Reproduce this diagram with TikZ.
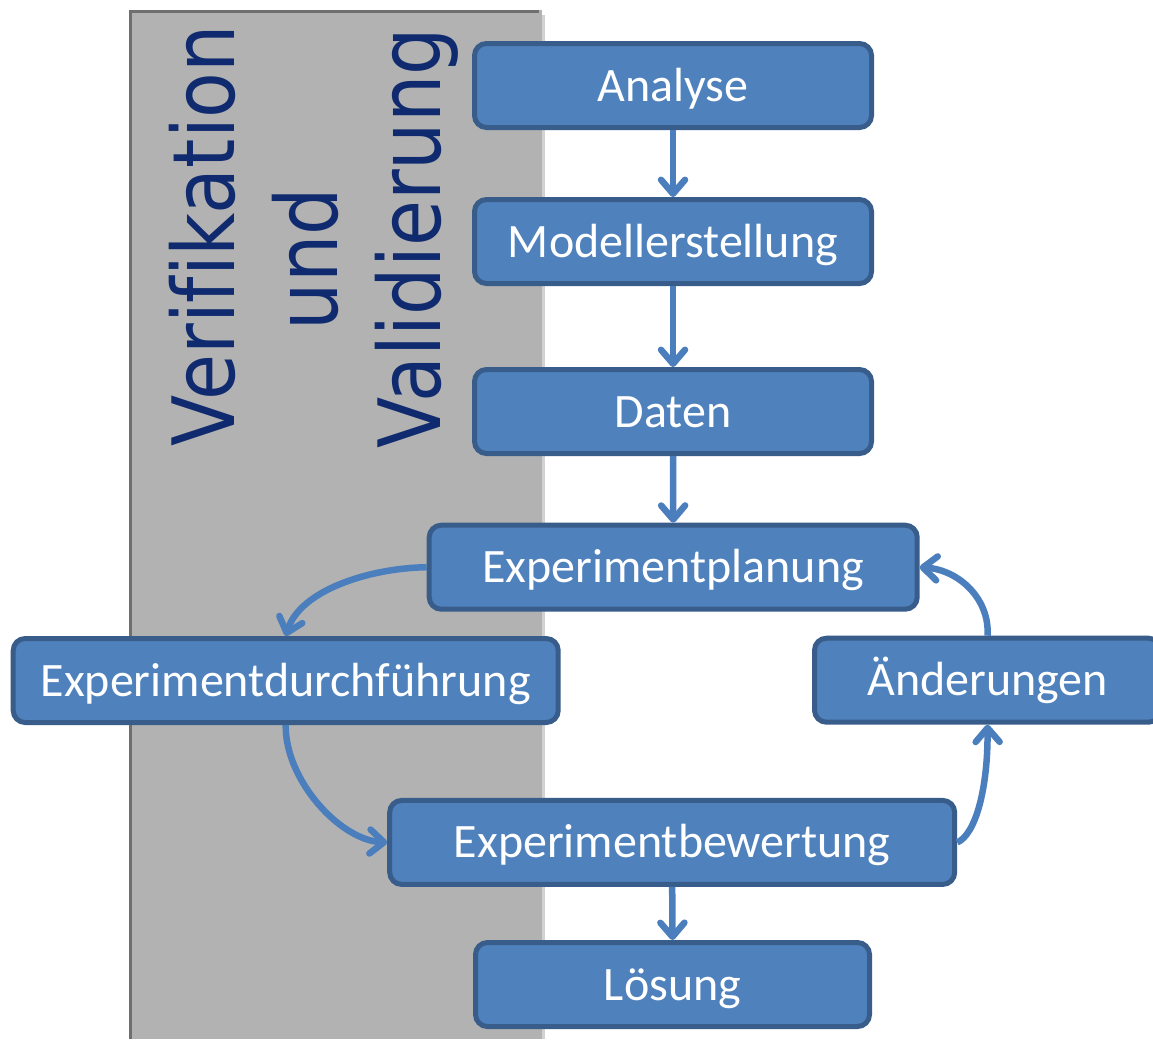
\documentclass[tikz,border=0pt]{standalone}
\usepackage{fontspec}
\usetikzlibrary{arrows.meta}
\newfontfamily\boxfont{Carlito}
\newfontfamily\sidefont[FakeStretch=0.87,Ligatures=NoCommon]{DejaVu Sans}
\definecolor{boxfill}{HTML}{4F81BD}
\definecolor{boxline}{HTML}{385D8A}
\definecolor{arrowcol}{HTML}{4A7EBD}
\definecolor{bandfill}{HTML}{B2B2B2}
\definecolor{bandline}{HTML}{6F6F6F}
\definecolor{bandshade}{HTML}{D2D2D2}
\definecolor{sidetext}{HTML}{0F2A6E}
\begin{document}
\begin{tikzpicture}[x=1pt,y=1pt,
  stepbox/.style={draw=boxline, fill=boxfill, line width=5pt, rounded corners=12pt,
    minimum height=84pt, inner sep=0pt, text=white,
    text height=31pt, text depth=0pt,
    font=\boxfont\fontsize{48}{58}\selectfont},
  conn/.style={draw=arrowcol, line width=6.5pt,
    -{Straight Barb[length=14pt,width=24pt,round]}},
  sidelabel/.style={rotate=90, anchor=base, inner sep=0pt, text=sidetext,
    font=\sidefont\fontsize{86}{100}\selectfont}]
\clip (0,0) rectangle (1153,-1039);
\fill[white] (0,0) rectangle (1153,-1039);

% grey band behind the left part of the flow
\fill[bandshade] (540,-15) rectangle (544.5,-1039);
\fill[bandfill] (130,-10) rectangle (542,-1039);
\fill[bandline] (129,-10) rectangle (132,-1039);
\fill[bandline] (129,-10) rectangle (539,-12.5);

% side labels
\node[sidelabel] (verif) at (234,-235.5) {Verifikation};
\node[sidelabel] (und) at (337,-259) {und};
\node[sidelabel] (valid) at (440,-238) {Validierung};

% process steps
\node[stepbox, minimum width=397pt] (analyse) at (673,-85.5) {Analyse};
\node[stepbox, minimum width=397pt] (modell) at (673,-241.5) {Modellerstellung};
\node[stepbox, minimum width=397pt] (daten) at (673,-411.5) {Daten};
\node[stepbox, minimum width=488pt] (plan) at (673.2,-567.2) {Experimentplanung};
\node[stepbox, minimum width=545pt] (durch) at (285.7,-680.5) {Experimentdurchführung};
\node[stepbox, minimum width=346pt] (aend) at (987.5,-680.2) {Änderungen};
\node[stepbox, minimum width=565pt] (bew) at (672.2,-842.4) {Experimentbewertung};
\node[stepbox, minimum width=394pt] (loes) at (672.5,-984.5) {Lösung};

% connectors
\draw[conn] (analyse.south) -- (modell.north);
\draw[conn] (modell.south) -- (daten.north);
\draw[conn] (daten.south) -- (plan.north);
\draw[conn] (plan.west) .. controls (370,-568) and (300,-590) .. (durch.north);
\draw[conn] (durch.south) .. controls (285,-780) and (340,-840) .. (bew.west);
\draw[conn] (bew.east) .. controls (975,-835) and (988,-790) .. (aend.south);
\draw[conn] (aend.north) .. controls (990,-600) and (960,-570) .. (plan.east);
\draw[conn] (bew.south) -- (loes.north);
\end{tikzpicture}
\end{document}
